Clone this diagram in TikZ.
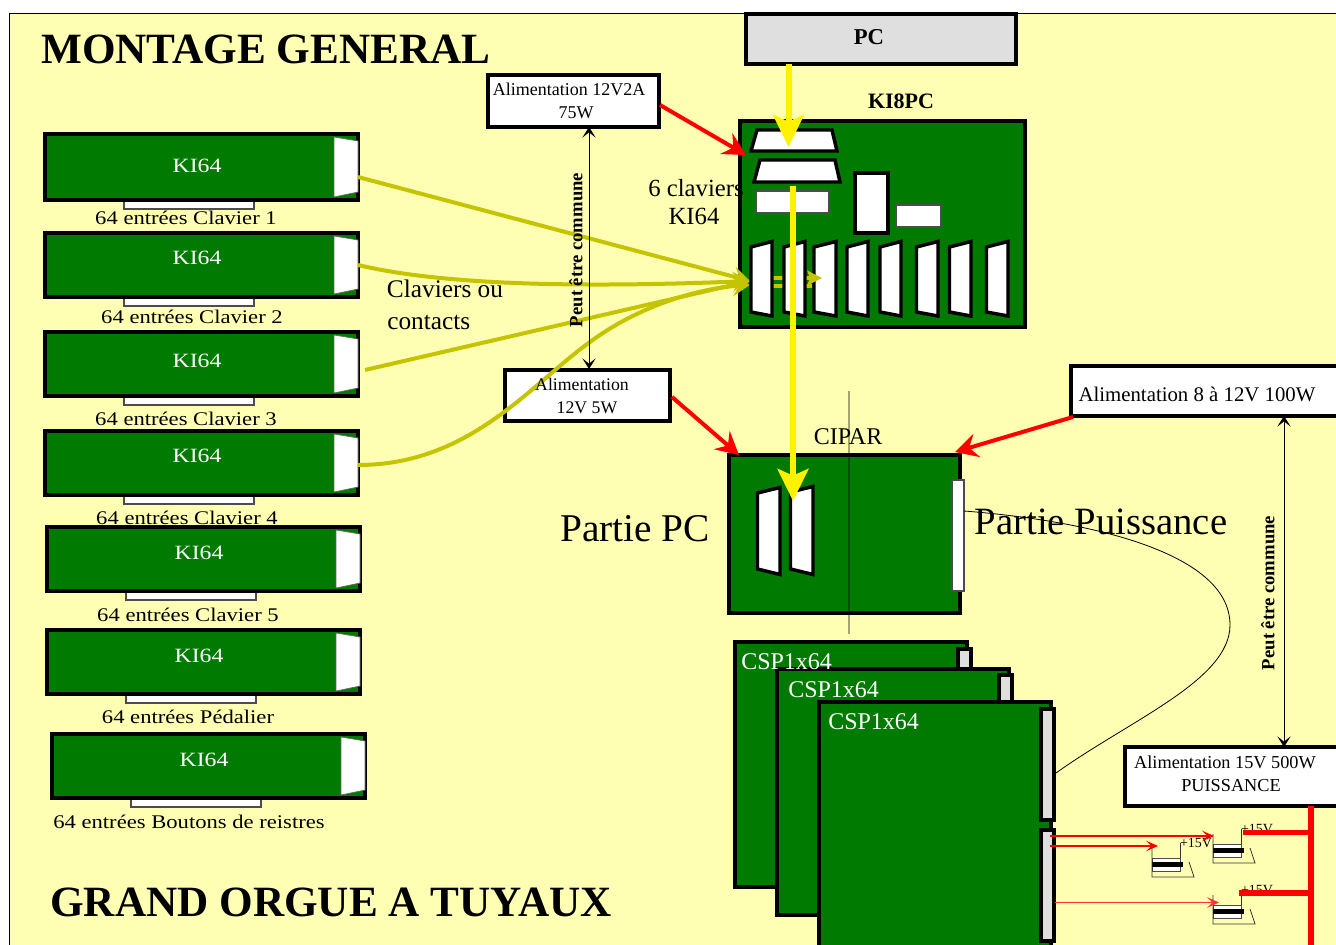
\documentclass[tikz,border=0pt]{standalone}
\usepackage{fontspec}
\setmainfont{Liberation Serif}
\newfontfamily\widefont[FakeStretch=1.17]{Liberation Serif}
\usetikzlibrary{arrows.meta}
\definecolor{bgy}{HTML}{FFFFB3}
\definecolor{pcb}{HTML}{007A00}
\definecolor{olive}{HTML}{C4C400}
\definecolor{lgray}{HTML}{DFDFDF}
\newcommand{\fs}[1]{\fontsize{#1}{#1}\selectfont}
\tikzset{
  rbox/.style={draw=black,line width=3pt,fill=white,inner sep=0pt,outer sep=0pt,align=center},
  pcbbox/.style={rbox,fill=pcb},
  graybox/.style={rbox,fill=lgray},
  thinwhite/.style={draw=black!70,line width=.8pt,fill=white,inner sep=0pt,outer sep=0pt},
  slotst/.style={draw=black,line width=2.6pt,fill=white,line join=miter},
  whitecon/.style={draw=black!60,line width=.5pt,fill=white},
  txt/.style={anchor=base,inner sep=0pt,text=black},
  wtxt/.style={anchor=base,inner sep=0pt,text=white},
  redarrow/.style={draw=red,line width=3pt,-{Stealth[length=17pt,width=18pt,inset=6pt]}},
  redsm/.style={draw=red,line width=.8pt,-{Stealth[length=9pt,width=8pt,inset=4pt]}},
  yelarrow/.style={draw=yellow,line width=4.5pt,-{Stealth[length=24pt,width=23pt,inset=5pt]}},
  olarrow/.style={draw=olive,line width=3pt,-{Stealth[length=13pt,width=15pt,inset=5pt]}},
  dbl/.style={draw=black,line width=.6pt,{Stealth[length=8pt,width=10pt,inset=4pt]}-{Stealth[length=8pt,width=10pt,inset=4pt]}},
  bar/.style={draw=red,line width=4.2pt},
}
% centre-line rectangle as a named node
\newcommand{\myrect}[6]{%
  \pgfmathsetmacro\mw{(#5-#3)*0.75}\pgfmathsetmacro\mh{(#6-#4)*0.75}%
  \node[#1,minimum width=\mw pt,minimum height=\mh pt] (#2) at ({(#3+#5)/2},{(#4+#6)/2}) {};}
\newcommand{\slotp}[6]{\draw[slotst] (#1,#3)--(#2,#4)--(#2,#6)--(#1,#5)--cycle;}
% name, left x, top y, bottom y, label centre, label baseline, KI64 baseline, label
\newcommand{\kiboard}[8]{%
  \pgfmathsetmacro\bxa{#2+79}\pgfmathsetmacro\bxb{#2+209}\pgfmathsetmacro\bya{#4+1}\pgfmathsetmacro\byb{#4+9}%
  \myrect{thinwhite}{#1b}{\bxa}{\bya}{\bxb}{\byb}%
  \pgfmathsetmacro\rx{#2+313}\myrect{pcbbox}{#1}{#2}{#3}{\rx}{#4}%
  \pgfmathsetmacro\cxa{#2+289}\pgfmathsetmacro\cxb{#2+313}%
  \pgfmathsetmacro\ya{#3+3}\pgfmathsetmacro\yb{#3+7}\pgfmathsetmacro\yc{#4-8}\pgfmathsetmacro\yd{#4-3}%
  \draw[whitecon] (\cxa,\ya)--(\cxb,\yb)--(\cxb,\yc)--(\cxa,\yd)--cycle;
  \coordinate (#1out) at (\cxb,{(#3+#4)/2});
  \pgfmathsetmacro\kx{#2+152}%
  \node[wtxt,font=\widefont\fs{15.2}] (#1t) at (\kx,#7) {KI64};
  \node[txt,font=\widefont\fs{14.5}] (#1l) at (#5,#6) {#8};}
\newcommand{\capa}[3]{%
  \begin{scope}[shift={(#1,#2)}]
    \draw[black!70,line width=.5pt,fill=white] (0,0) rectangle (28,13);
    \draw[black,line width=3.3pt] (0,6.5) -- (31,6.5);
    \draw[black!80,line width=.6pt] (0,-10) -- (0,19) -- (42,19) -- (37,4);
    \draw[black!80,line width=.6pt] (28,0) -- (28,-15);
    \node[txt,font=\fs{10.5}] (#3) at (44,-11) {+15V};
  \end{scope}}
\begin{document}
\begin{tikzpicture}[x=0.75pt,y=-0.75pt]
\useasboundingbox (0,0) rectangle (1336,945);
\clip (0,0) rectangle (1336,945);
\fill[white] (0,0) rectangle (1336,945);
\draw[black,line width=.7pt,fill=bgy] (9,13.5) rectangle (1345,955);

% titles
\node[txt,font=\bfseries\fs{32.4}] (title) at (266,64) {MONTAGE GENERAL};
\node[txt,font=\bfseries\fs{32.4}] (title2) at (331,916) {GRAND ORGUE A TUYAUX};

% KI64 boards
\kiboard{ka}{45}{134}{200}{186}{224}{173}{64 entrées Clavier 1}
\kiboard{kb}{45}{233}{297}{192}{323}{265}{64 entrées Clavier 2}
\kiboard{kc}{45}{332}{396}{186}{425}{367}{64 entrées Clavier 3}
\kiboard{kd}{45}{431}{495}{187}{524}{462}{64 entrées Clavier 4}
\kiboard{ke}{47}{527}{591}{188}{621}{559}{64 entrées Clavier 5}
\kiboard{kf}{47}{630}{694}{188}{723}{662}{64 entrées Pédalier}
\kiboard{kg}{52}{734}{798}{189}{828}{766}{64 entrées Boutons de reistres}

% KI8PC
\myrect{pcbbox}{ki8}{740}{121}{1024.5}{327}
\node[txt,font=\bfseries\fs{16.5}] (ki8t) at (901,109) {KI8PC};
\node[txt,font=\fs{18.5},align=center] (six) at (696,197) {6 claviers};
\node[txt,font=\fs{18.5}] (six2) at (694,225) {KI64};
\draw[slotst] (751,151)--(757,130)--(832,130)--(837,151)--cycle;
\draw[slotst] (754,182)--(760,160)--(835,160)--(840,182)--cycle;
\myrect{thinwhite}{ra}{756}{191}{829}{213}
\myrect{rbox}{rb}{854.5}{173.5}{888}{233}
\myrect{thinwhite}{rc}{896}{205}{941}{227}
\slotp{814}{836}{247}{241.5}{312}{316}
\slotp{847}{868}{247}{241.5}{312}{316}
\slotp{880}{901}{247}{241.5}{312}{316}
\slotp{916.5}{938}{247}{241.5}{312}{316}
\slotp{949.5}{971}{247}{241.5}{312}{316}
\slotp{986.5}{1008}{247}{241.5}{312}{316}

% power boxes
\myrect{rbox}{pwa}{488}{75}{659}{127}
\node[txt,font=\fs{13.5}] (pwat) at (569,96) {Alimentation 12V2A};
\node[txt,font=\fs{13.5}] (pwat2) at (576,119) {75W};
\myrect{rbox}{pwb}{505}{370}{670}{421}
\myrect{rbox}{pwc}{1071}{366}{1340}{416}
\node[txt,font=\fs{15.6}] (pwct) at (1197,401) {Alimentation 8 à 12V 100W};
\myrect{rbox}{pwd}{1125}{747}{1340}{806}
\node[txt,font=\fs{13.7}] (pwdt) at (1225,768) {Alimentation 15V 500W};
\node[txt,font=\fs{13.7}] (pwdt2) at (1231,791) {PUISSANCE};

% PC
\myrect{graybox}{pc}{746}{14}{1016}{64}
\node[txt,font=\bfseries\fs{17}] (pct) at (869,45) {PC};

% olive arrows
\coordinate (kin) at (750,281);
\coordinate (kinb) at (750,285);
\draw[olarrow] (kaout) ++(0,10) -- (kin);
\draw[olarrow] (kbout) .. controls (450,287) and (600,287) .. (kin);
\draw[olarrow] (365,370) -- (kin);
\draw[olarrow] (kdout) ++(0,2) .. controls (470,465) and (530,385) .. (590,342) .. controls (640,305) and (700,288) .. (kinb);
\coordinate (stubb) at (822,278);
\draw[draw=olive,line width=3pt,-{Stealth[length=11pt,width=11pt,inset=2pt]}] (750,278) -- (stubb);
\draw[draw=olive,line width=3pt] (750,286) -- (812,286);

\slotp{751}{772}{247}{241.5}{312}{316}
\slotp{784}{805}{247}{241.5}{312}{316}

% text with arrows
\node[txt,font=\fs{19}] (clav) at (445,297) {Claviers ou};
\node[txt,font=\fs{19},anchor=base west] (cont) at (387,329) {contacts};

% CIPAR
\myrect{pcbbox}{cip}{729}{454.5}{960}{613}
\node[txt,font=\fs{18}] (cipt) at (848,444) {CIPAR};
\myrect{thinwhite}{cipr}{952}{480}{964}{591}
\slotp{757.5}{780}{493}{487.5}{569}{574.5}
\slotp{790.5}{813}{492}{486.5}{569}{574.5}
\node[txt,font=\fs{29.5}] (ppc) at (635,541) {Partie PC};
\node[txt,font=\fs{29}] (ppu) at (1101,534) {Partie Puissance};
\coordinate (va) at (849,391); \coordinate (vb) at (849,634);
\draw[black,opacity=.35,line width=.8pt] (va) -- (vb);

% yellow arrows
\draw[yelarrow] (pc.south -| 788.5,0) -- (788.5,147);
\draw[yelarrow] (793,186) -- (793,501);

% CSP boards
\myrect{pcbbox}{csa}{735}{642}{967}{887}
\myrect{graybox}{coa}{957.5}{649}{970.5}{680}
\myrect{pcbbox}{csb}{777}{669}{1009}{915}
\node[txt,font=\fs{18},text=white,anchor=base west] (csat) at (741,669) {CSP1x64};
\myrect{graybox}{cob}{999}{675}{1012}{706}
\node[txt,font=\fs{18},text=white,anchor=base west] (csbt) at (788,697) {CSP1x64};
\myrect{pcbbox}{csc}{819}{702}{1051}{960}
\myrect{graybox}{coc}{1041}{709}{1054}{820}
\myrect{graybox}{cod}{1041}{830}{1054}{941}
\node[txt,font=\fs{18},text=white,anchor=base west] (csct) at (828,729) {CSP1x64};

% thin curve
\draw[black,line width=.6pt] (964,511) .. controls (1080,520) and (1230,550) .. (1230,625) .. controls (1230,680) and (1130,720) .. (1056,773);

% red arrows
\draw[redarrow] (660,105) -- (746,155);
\draw[redarrow] (672,397) -- (739,455);
\draw[redarrow] (1073,417) -- (955,452);

% double arrows and labels
\draw[dbl] (589,127) -- (589,369);
\node[txt,font=\bfseries\fs{14},rotate=90,anchor=center] (pa) at (576,250) {Peut être commune};
\draw[dbl] (1284,416) -- (1284,747);
\node[txt,font=\bfseries\fs{14},rotate=90,anchor=center] (pb) at (1268,593) {Peut être commune};

\node[txt,font=\fs{13.3}] (pwbt) at (582,390) {Alimentation};
\node[txt,font=\fs{13.3}] (pwbt2) at (587,413) {12V 5W};

% capacitors
\capa{1152}{858}{cpa}
\capa{1213}{844}{cpb}
\capa{1213}{905}{cpc}

% red wiring
\draw[bar] (pwd.south -| 1311,0) -- (1311,945);
\draw[bar] (1243,832.5) -- (1311,832.5);
\draw[bar] (1239,893) -- (1311,893);
\draw[redsm] (1050,836) -- (1214,836);
\draw[redsm] (1050,846) -- (1158,846);
\draw[redsm,red!80!white,line width=1pt] (1055,902.5) -- (1219,902.5);
\end{tikzpicture}
\end{document}
